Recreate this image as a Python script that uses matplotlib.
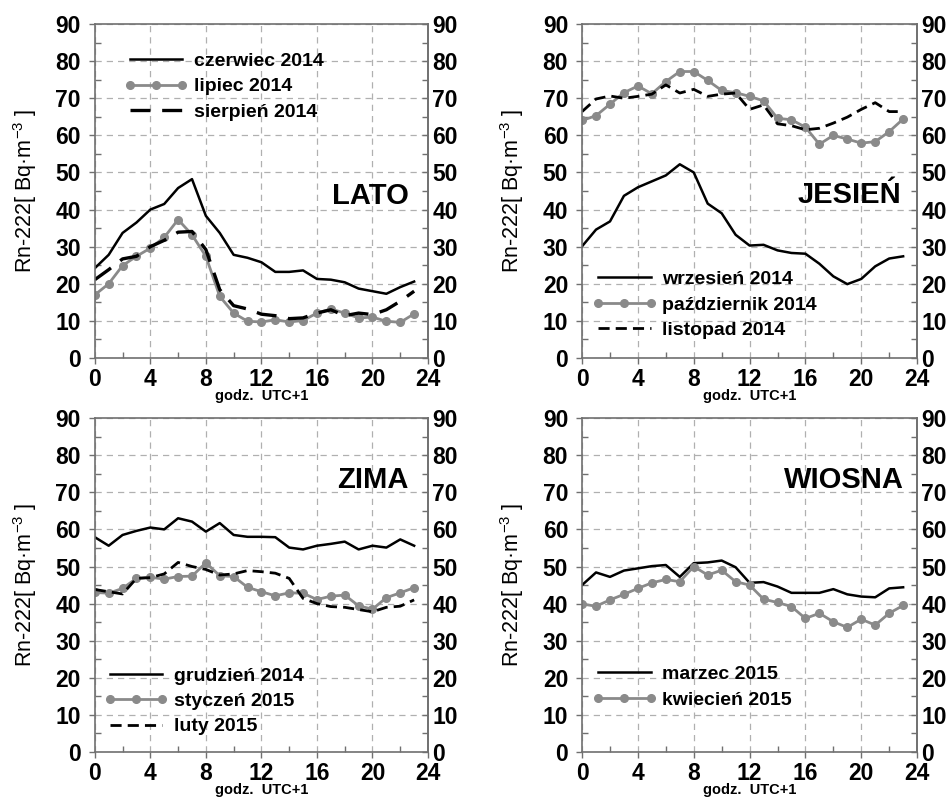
import matplotlib
matplotlib.use('Agg')
import matplotlib.pyplot as plt
from matplotlib.legend_handler import HandlerLine2D
from matplotlib.lines import Line2D
import numpy as np

plt.rcParams['font.family'] = ['Liberation Sans', 'DejaVu Sans']
plt.rcParams['mathtext.fontset'] = 'custom'
plt.rcParams['mathtext.rm'] = 'Liberation Sans'
plt.rcParams['mathtext.default'] = 'regular'

hours = list(range(24))

# LATO
czerwiec = [24.2, 27.8, 33.7, 36.5, 40.0, 41.5, 45.8, 48.2, 38.3, 33.7, 27.8, 27.0,
            25.8, 23.2, 23.2, 23.6, 21.3, 21.1, 20.4, 18.7, 18.0, 17.3, 19.1, 20.6]
lipiec = [17.0, 20.0, 24.9, 27.4, 29.6, 32.5, 37.3, 33.2, 27.4, 16.6, 12.1, 9.9,
          9.7, 10.3, 9.7, 10.1, 12.1, 13.2, 12.1, 10.8, 11.0, 9.9, 9.6, 11.9]
sierpien = [21.1, 23.8, 26.7, 27.4, 30.0, 31.7, 33.9, 34.1, 29.2, 18.4, 14.1, 13.2,
            11.8, 11.4, 10.6, 10.8, 12.1, 13.0, 11.4, 12.1, 11.7, 13.0, 15.3, 18.0]

# JESIEN
wrzesien = [30.1, 34.6, 36.8, 43.7, 46.0, 47.6, 49.2, 52.2, 50.0, 41.6, 39.0, 33.2,
            30.3, 30.5, 29.0, 28.3, 28.1, 25.4, 22.0, 19.9, 21.3, 24.7, 26.8, 27.4]
pazdziernik = [64.0, 65.3, 68.4, 71.5, 73.3, 71.2, 74.5, 77.2, 77.2, 74.8, 72.1, 71.5,
               70.5, 69.3, 64.6, 64.2, 62.2, 57.6, 60.0, 59.0, 57.9, 58.3, 61.0, 64.4]
listopad = [66.4, 69.8, 70.6, 70.0, 70.5, 71.1, 73.6, 71.4, 72.4, 70.5, 71.1, 71.4,
            67.0, 68.2, 63.1, 62.6, 61.5, 61.9, 63.3, 64.9, 67.0, 68.8, 66.4, 66.4]

# ZIMA
grudzien = [57.9, 55.6, 58.5, 59.6, 60.5, 60.0, 63.0, 62.1, 59.4, 61.7, 58.5, 58.0,
            58.0, 57.9, 55.1, 54.6, 55.6, 56.1, 56.7, 54.6, 55.6, 55.1, 57.3, 55.6]
styczen = [43.0, 42.8, 44.1, 46.8, 47.1, 46.6, 47.3, 47.4, 51.0, 47.5, 47.3, 44.4,
           43.2, 42.1, 42.9, 42.8, 41.1, 42.0, 42.3, 39.4, 38.5, 41.6, 42.9, 44.3]
luty = [43.8, 43.2, 42.6, 46.8, 47.0, 48.0, 51.1, 50.0, 49.2, 47.7, 48.0, 48.9,
        48.6, 48.2, 46.8, 41.4, 40.0, 39.2, 39.0, 38.4, 37.8, 39.0, 39.3, 41.0]

# WIOSNA
marzec = [45.0, 48.4, 47.2, 48.9, 49.5, 50.1, 50.4, 47.2, 50.9, 51.1, 51.6, 49.8,
          45.6, 45.8, 44.6, 42.9, 42.9, 42.9, 43.9, 42.5, 41.9, 41.7, 44.1, 44.4]
kwiecien = [39.9, 39.3, 41.0, 42.5, 44.1, 45.6, 46.5, 45.9, 50.0, 47.7, 49.0, 45.9,
            45.0, 41.2, 40.3, 39.2, 36.0, 37.4, 35.1, 33.6, 35.8, 34.2, 37.4, 39.5]

GRAY = '#8a8a8a'
SOLID = dict(color='black', lw=1.8)
MARK = dict(color=GRAY, lw=2.0, marker='o', markersize=5.5)
LONGDASH = dict(color='black', lw=2.4, dashes=(6, 3.5))
SHORTDASH = dict(color='black', lw=2.0, dashes=(4, 2.2))

panels = [
    dict(pos=[0.100, 0.5514, 0.3515, 0.4185], name='LATO', txt=(0.826, 0.485),
         series=[(czerwiec, 'czerwiec 2014', SOLID), (lipiec, 'lipiec 2014', MARK),
                 (sierpien, 'sierpień 2014', LONGDASH)],
         leg=dict(loc='upper left', bbox_to_anchor=(0.105, 0.915))),
    dict(pos=[0.614, 0.5514, 0.3534, 0.4185], name='JESIEŃ', txt=(0.797, 0.488),
         series=[(wrzesien, 'wrzesień 2014', SOLID), (pazdziernik, 'październik 2014', MARK),
                 (listopad, 'listopad 2014', SHORTDASH)],
         leg=dict(loc='lower left', bbox_to_anchor=(0.048, 0.057))),
    dict(pos=[0.100, 0.0576, 0.3515, 0.4185], name='ZIMA', txt=(0.835, 0.814),
         series=[(grudzien, 'grudzień 2014', SOLID), (styczen, 'styczeń 2015', MARK),
                 (luty, 'luty 2015', SHORTDASH)],
         leg=dict(loc='lower left', bbox_to_anchor=(0.045, 0.05))),
    dict(pos=[0.614, 0.0576, 0.3534, 0.4185], name='WIOSNA', txt=(0.782, 0.814),
         series=[(marzec, 'marzec 2015', SOLID), (kwiecien, 'kwiecień 2015', MARK)],
         leg=dict(loc='lower left', bbox_to_anchor=(0.048, 0.13))),
]

fig = plt.figure(figsize=(9.48, 7.98), dpi=100)

for p in panels:
    ax = fig.add_axes(p['pos'])
    for vals, label, style in p['series']:
        ax.plot(hours, vals, label=label, **style)
    ax.set_xlim(0, 24)
    ax.set_ylim(0, 90)
    ax.set_xticks(np.arange(0, 25, 4))
    ax.set_xticks(np.arange(0, 25, 2), minor=True)
    ax.set_yticks(np.arange(0, 91, 10))
    ax.set_yticks(np.arange(0, 91, 5), minor=True)
    ax.grid(True, which='major', color='#b0b0b0', ls=(0, (5, 4)), lw=0.9)
    ax.tick_params(which='major', direction='out', length=4, width=1, color='#707070',
                   labelsize=16.5, pad=3.5)
    ax.tick_params(which='minor', direction='in', length=4, width=1, color='#707070')
    ax.tick_params(axis='y', which='major', pad=6)
    for lab in ax.get_xticklabels() + ax.get_yticklabels():
        lab.set_fontweight('bold')
    for s in ax.spines.values():
        s.set_color('#707070')
        s.set_linewidth(1.2)

    # right-hand copy of the y scale
    ax2 = ax.twinx()
    ax2.set_ylim(0, 90)
    ax2.set_yticks(np.arange(0, 91, 10))
    ax2.set_yticks(np.arange(0, 91, 5), minor=True)
    ax2.tick_params(which='major', direction='in', length=4, width=1, color='#707070',
                    labelsize=16.5, pad=3)
    ax2.tick_params(which='minor', direction='in', length=4, width=1, color='#707070')
    for lab in ax2.get_yticklabels():
        lab.set_fontweight('bold')
    ax2.spines['right'].set_color('#707070')
    ax2.spines['right'].set_linewidth(1.2)
    for side in ['left', 'top', 'bottom']:
        ax2.spines[side].set_visible(False)

    ax.set_xlabel('godz.  UTC+1', fontsize=10.5, fontweight='bold', labelpad=-1.5)
    ax.set_ylabel(r'Rn-222[ Bq·m$^{-3}$ ]', fontsize=15.5, labelpad=12)
    ax.text(p['txt'][0], p['txt'][1], p['name'], transform=ax.transAxes,
            fontsize=21, fontweight='bold', ha='center', va='center')
    ax.legend(frameon=False, prop=dict(size=14, weight='bold'), handlelength=2.7,
              handletextpad=0.6, labelspacing=0.4, borderpad=0, borderaxespad=0,
              handler_map={Line2D: HandlerLine2D(numpoints=3, marker_pad=0)},
              **p['leg'])

fig.savefig('out.png', dpi=100)
